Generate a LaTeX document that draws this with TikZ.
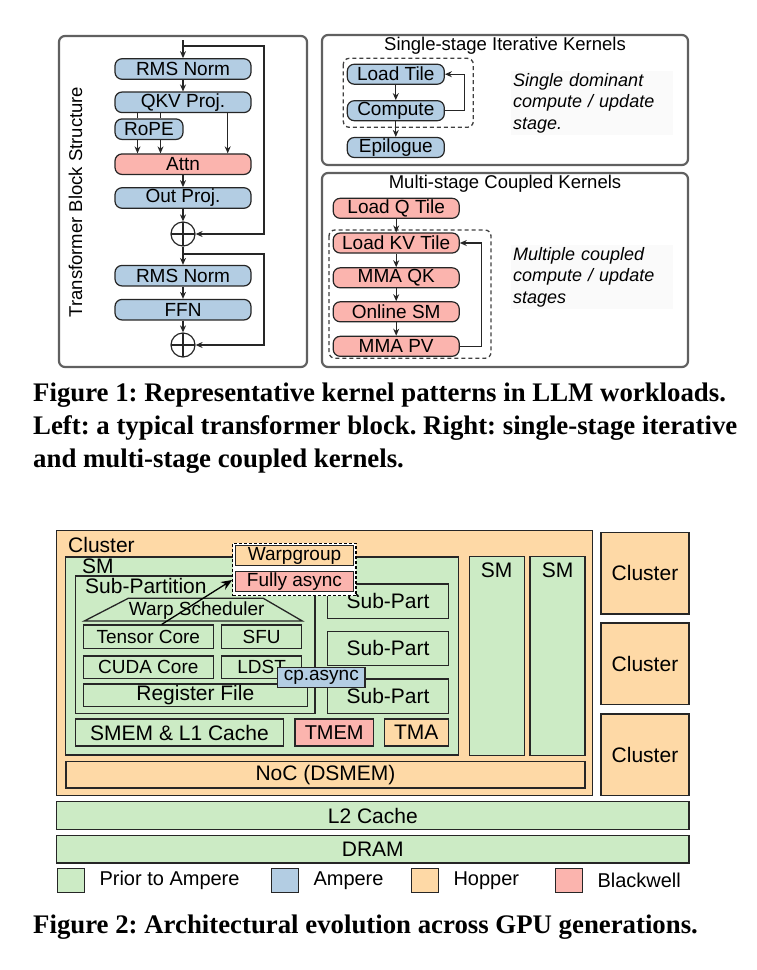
\documentclass[tikz,border=0pt]{standalone}
\usepackage{fontspec}
\setmainfont{Liberation Serif}
\setsansfont{Liberation Sans}
\usetikzlibrary{positioning, arrows.meta, calc}

\definecolor{oldgreen}{HTML}{CCEBC5}
\definecolor{amperblue}{HTML}{B3CDE3}
\definecolor{hopperorange}{HTML}{FED9A6}
\definecolor{bwpink}{HTML}{FBB4AE}

\begin{document}
\frenchspacing
\begin{tikzpicture}[
  x=1pt, y=-1pt,
  font=\sffamily\fontsize{19}{21.7}\selectfont,
  panel/.style={draw=gray!75!black, line width=2.2pt, rounded corners=6pt},
  op/.style={draw=black!85, line width=1.2pt, fill=amperblue, rounded corners=7pt,
    minimum width=136pt, minimum height=20.5pt, inner sep=0pt},
  hotop/.style={op, fill=bwpink},
  kern/.style={op, minimum width=97pt, minimum height=20pt},
  hotkern/.style={kern, fill=bwpink, minimum width=126pt},
  sum/.style={circle, draw=black!85, line width=1.2pt, minimum size=24pt, inner sep=0pt,
    path picture={\draw[line width=1.2pt] (path picture bounding box.north) -- (path picture bounding box.south)
      (path picture bounding box.west) -- (path picture bounding box.east);}},
  flow/.style={-{Stealth[length=7pt, width=6pt]}, line width=1.1pt, draw=black!85},
  head/.style={font=\sffamily\fontsize{18.5}{21}\selectfont},
  iterbox/.style={draw=black!75, line width=1.3pt, dash pattern=on 4pt off 3pt, rounded corners=6pt},
  note/.style={fill=gray!4, align=left, anchor=north west, text width=158pt, inner sep=2pt,
    font=\sffamily\itshape\fontsize{18}{21.7}\selectfont},
  caption/.style={align=left, anchor=north west, inner sep=0pt,
    font=\rmfamily\bfseries\fontsize{26.8}{33}\selectfont},
  unit/.style={draw=black!85, line width=1.3pt, fill=oldgreen, inner sep=0pt,
    font=\sffamily\fontsize{21}{24}\selectfont},
  minor/.style={unit, font=\sffamily\fontsize{19}{22}\selectfont},
  tag/.style={anchor=west, inner sep=0pt, font=\sffamily\fontsize{21}{24}\selectfont},
  hop/.style={-{Stealth[length=11pt, width=9pt]}, line width=1.3pt},
  swatch/.style={draw=black!85, line width=1.3pt, minimum width=27pt, minimum height=24pt, inner sep=0pt},
  key/.style={inner sep=0pt, font=\sffamily\fontsize{20}{24}\selectfont}
]
\useasboundingbox (0,0) rectangle (757,970);

% left panel: one transformer block
\draw[panel] (59,36) rectangle (307,367);
\node[head, rotate=90] (blk) at (75.5,202) {Transformer Block Structure};

\coordinate (in) at (183,40);
\node[op] (rms1) at (183,69) {RMS Norm};
\node[op] (qkv) at (183,102.3) {QKV Proj.};
\node[op, minimum width=68pt] (rope) at (149,129.2) {RoPE};
\node[hotop] (attn) at (183,164.2) {Attn};
\node[op] (outp) at (183,198) {Out Proj.};
\node[sum] (add1) at (183,234) {};
\node[op] (rms2) at (183,275.7) {RMS Norm};
\node[op] (ffn) at (183,309.7) {FFN};
\node[sum] (add2) at (183,345) {};

\draw[flow] (in) -- (rms1);
\draw[flow] (rms1) -- (qkv);
\foreach \dx in {-11.5,11.5} {
  \draw[line width=1.1pt, draw=black!85] ($(rope.north)+(\dx,0)$) -- ($(rope.north |- qkv.south)+(\dx,0)$);
  \draw[flow] ($(rope.south)+(\dx,0)$) -- ($(rope.south |- attn.north)+(\dx,0)$);
}
\draw[flow] ($(qkv.south)+(44.7,0)$) -- ($(attn.north)+(44.7,0)$);
\draw[flow] (attn) -- (outp);
\draw[flow] (outp) -- (add1);
\draw[flow] (add1) -- (rms2);
\draw[flow] (rms2) -- (ffn);
\draw[flow] (ffn) -- (add2);

% residual paths
\coordinate (tap1) at (183,46);
\coordinate (skip1) at (264,46);
\draw[flow] (tap1) -- (skip1) |- (add1);
\coordinate (tap2) at (183,254);
\coordinate (skip2) at (264,254);
\draw[flow] (tap2) -- (skip2) |- (add2);

% right top: single-stage kernels
\draw[panel] (322,35) rectangle (688,165);
\node[head] (t1) at (505,46) {Single-stage Iterative Kernels};
\draw[iterbox] (343.3,58.3) rectangle (473.3,127.3);
\node[kern] (ld) at (395.8,74.2) {Load Tile};
\node[kern] (cmp) at (395.8,110.7) {Compute};
\node[kern] (epi) at (395.8,147.5) {Epilogue};
\draw[flow] (ld) -- (cmp);
\draw[flow] (cmp) -- (epi);
\draw[flow] (cmp.east) -- ++(19.7,0) |- (ld);
\node[note] (n1) at (511,71) {Single dominant\\compute / update\\stage.};

% right bottom: multi-stage kernels
\draw[panel] (322,173) rectangle (688,367);
\node[head] (t2) at (505,184) {Multi-stage Coupled Kernels};
\node[hotkern] (ldq) at (396.2,208.3) {Load Q Tile};
\draw[iterbox] (329,230) rectangle (491,358.3);
\node[hotkern] (ldkv) at (396.2,243) {Load KV Tile};
\node[hotkern] (qk) at (396.2,277.8) {MMA QK};
\node[hotkern] (osm) at (396.2,311.8) {Online SM};
\node[hotkern] (pv) at (396.2,346.3) {MMA PV};
\draw[flow] (ldq) -- (ldkv);
\draw[flow] (ldkv) -- (qk);
\draw[flow] (qk) -- (osm);
\draw[flow] (osm) -- (pv);
\draw[flow] (pv.east) -- ++(21.4,0) |- (ldkv);
\node[note] (n2) at (511,245) {Multiple coupled\\compute / update\\stages};

\node[caption] (cap1) at (33,383) {Figure 1: Representative kernel patterns in LLM workloads.\\Left: a typical transformer block. Right: single-stage iterative\\and multi-stage coupled kernels.};

% figure 2: cluster with one SM opened up
\draw[unit, fill=hopperorange] (56.7,530.7) rectangle (592.3,795.7);
\node[tag] (clab) at (68,545) {Cluster};
\draw[unit] (65.5,557) rectangle (458.3,755);
\node[tag] (smlab) at (82,566) {SM};
\draw[unit] (75.5,576) rectangle (315,713.3);
\node[tag] (splab) at (85,586) {Sub-Partition};
\draw[line width=1.3pt, draw=black!85] (84.3,621) -- (128.3,598.3) -- (263.3,598.3) -- (302.3,621) -- cycle;
\node[font=\sffamily\fontsize{19}{22}\selectfont] (ws) at (196.7,611) {Warp Scheduler};
\node[minor, minimum width=130pt, minimum height=23.3pt] (tc) at (148.3,636.7) {Tensor Core};
\node[minor, minimum width=80pt, minimum height=23.3pt] (sfu) at (261.7,636.7) {SFU};
\node[minor, minimum width=130pt, minimum height=22.3pt] (cuda) at (148.3,667) {CUDA Core};
\node[minor, minimum width=80pt, minimum height=22.3pt] (ldst) at (261.7,667) {LDST};
\node[unit, minimum width=224pt, minimum height=22.7pt] (rf) at (195.3,695.3) {Register File};
\foreach \y/\i in {601.2/1, 648.3/2, 696.2/3}
  \node[unit, minimum width=120.6pt, minimum height=34.3pt] (sp\i) at (388,\y) {Sub-Part};
\node[unit, minimum width=207.6pt, minimum height=27pt] (smem) at (179.5,732.5) {SMEM \& L1 Cache};
\node[unit, fill=bwpink, minimum width=78.3pt, minimum height=27pt, font=\sffamily\fontsize{20}{24}\selectfont] (tmem) at (334.2,732.5) {TMEM};
\node[unit, fill=hopperorange, minimum width=64pt, minimum height=27pt] (tma) at (416.3,732.5) {TMA};

% the other SMs and the NoC
\foreach \x/\i in {496.7/2, 557.5/3} {
  \node[unit, minimum width=55pt, minimum height=199.3pt, anchor=north] (sm\i) at (\x,555.7) {};
  \node[tag, anchor=center] (smt\i) at (\x,570) {SM};
}
\node[unit, fill=hopperorange, minimum width=519pt, minimum height=26.3pt] (noc) at (325.5,774.8) {NoC (DSMEM)};

% Hopper / Blackwell additions on top
\node[draw=black, fill=white, line width=1.3pt, dash pattern=on 3pt off 2pt,
  minimum width=123.3pt, minimum height=52.4pt, inner sep=0pt] (grp) at (294.4,569.5) {};
\node[minor, fill=hopperorange, minimum width=117.6pt, minimum height=20pt] (wg) at (294.5,555.7) {Warpgroup};
\node[minor, fill=bwpink, minimum width=117.6pt, minimum height=20pt] (fa) at (294.5,581.7) {Fully async};
\draw[hop] ($(tc.north)+(13.4,0)$) -- (grp.west |- 0,580);
\node[minor, fill=amperblue, minimum width=87.3pt, minimum height=20pt] (cpa) at (321.3,677.7) {cp.async};

% neighbour clusters
\foreach \y/\i in {573.2/1, 663.8/2, 754.8/3}
  \node[unit, fill=hopperorange, minimum width=88pt, minimum height=81.7pt] (cl\i) at (645,\y) {Cluster};

% memory
\node[unit, minimum width=632.3pt, minimum height=27.6pt] (l2) at (372.8,815.5) {L2 Cache};
\node[unit, minimum width=632.3pt, minimum height=27.3pt] (dram) at (372.8,849.4) {DRAM};

% legend
\foreach \c/\lab/\x in {oldgreen/Prior to Ampere/57, amperblue/Ampere/271, hopperorange/Hopper/411, bwpink/Blackwell/555} {
  \node[swatch, fill=\c, anchor=west] (sw-\c) at (\x,880.5) {};
  \node[key, right=14pt of sw-\c] (lg-\c) {\lab};
}

\node[caption] (cap2) at (33,915) {Figure 2: Architectural evolution across GPU generations.};

\end{tikzpicture}
\end{document}
